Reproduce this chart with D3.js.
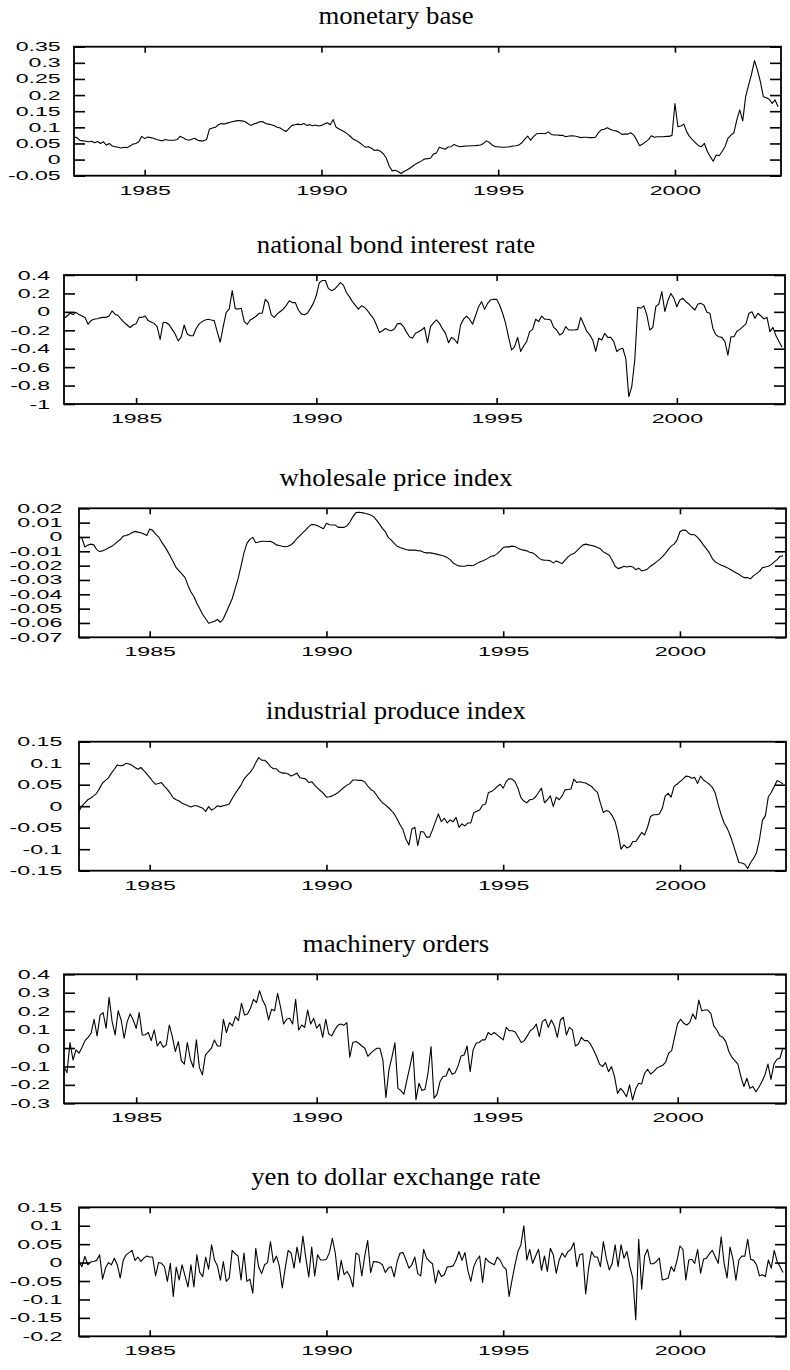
<!DOCTYPE html>
<html>
<head>
<meta charset="utf-8">
<script src="https://cdn.jsdelivr.net/npm/d3@7"></script>
<style>
  body { margin: 0; background: #fff; }
  .tick-label { font-family: "Liberation Sans", Arial, sans-serif; font-size: 12.5px; fill: #000; }
  .title { font-family: "Liberation Serif", "Times New Roman", serif; font-size: 25px; fill: #000; }
</style>
</head>
<body>
<div id="chart"></div>
<script>
// monthly observations, Jan 1983 .. Dec 2002
const months = d3.range(240).map((i) => 1983 + i / 12);
const yearTicks = [1985, 1990, 1995, 2000];

const monetaryBase = [
  0.07, 0.068, 0.06, 0.058, 0.057, 0.055, 0.057, 0.052, 0.056, 0.05, 0.055, 0.045,
  0.05, 0.042, 0.04, 0.038, 0.036, 0.038, 0.037, 0.042, 0.048, 0.05, 0.055, 0.072,
  0.065, 0.07, 0.068, 0.066, 0.062, 0.06, 0.058, 0.062, 0.06, 0.06, 0.06, 0.062,
  0.072, 0.068, 0.062, 0.06, 0.063, 0.066, 0.06, 0.058, 0.058, 0.062, 0.095, 0.098,
  0.1, 0.108, 0.112, 0.11, 0.113, 0.116, 0.118, 0.12, 0.121, 0.12, 0.118, 0.112,
  0.106, 0.11, 0.113, 0.117, 0.118, 0.112, 0.11, 0.108, 0.105, 0.1, 0.098, 0.092,
  0.087, 0.097, 0.106, 0.108, 0.11, 0.108, 0.112, 0.106, 0.108, 0.105, 0.107, 0.104,
  0.106, 0.11, 0.114, 0.108, 0.124, 0.1, 0.095, 0.09, 0.085, 0.078, 0.07, 0.062,
  0.058, 0.052, 0.045, 0.038, 0.04, 0.035, 0.028, 0.03, 0.026, 0.018, 0.005, -0.02,
  -0.035, -0.033, -0.037, -0.043, -0.037, -0.032, -0.027, -0.02, -0.014, -0.009, -0.004, 0.002,
  0.003, 0.004, 0.017, 0.02, 0.038, 0.035, 0.032, 0.039, 0.04, 0.047, 0.043, 0.04,
  0.041, 0.042, 0.042, 0.043, 0.043, 0.044, 0.045, 0.05, 0.058, 0.053, 0.045, 0.04,
  0.04, 0.038, 0.038, 0.039, 0.04, 0.042, 0.043, 0.045, 0.052, 0.063, 0.073, 0.06,
  0.071, 0.08, 0.081, 0.081, 0.08, 0.086, 0.078, 0.076, 0.076, 0.075, 0.075, 0.071,
  0.073, 0.074, 0.073, 0.071, 0.068, 0.069, 0.069, 0.068, 0.068, 0.069, 0.083, 0.092,
  0.094, 0.099, 0.094, 0.09, 0.089, 0.085, 0.078, 0.079, 0.079, 0.083, 0.076, 0.061,
  0.043, 0.048, 0.055, 0.062, 0.074, 0.069, 0.071, 0.071, 0.071, 0.072, 0.072, 0.075,
  0.174, 0.102, 0.104, 0.11, 0.086, 0.071, 0.061, 0.052, 0.043, 0.04, 0.05, 0.025,
  0.009, -0.005, 0.014, 0.012, 0.025, 0.04, 0.066, 0.076, 0.083, 0.123, 0.154, 0.12,
  0.195, 0.231, 0.265, 0.307, 0.278, 0.242, 0.195, 0.192, 0.187, 0.174, 0.185, 0.164,
];

const bondRate = [
  -0.07, -0.045, -0.015, -0.03, -0.005, -0.03, -0.045, -0.06, -0.135, -0.095, -0.08, -0.075,
  -0.065, -0.06, -0.06, -0.045, 0.01, -0.025, -0.04, -0.08, -0.115, -0.143, -0.17, -0.143,
  -0.13, -0.06, -0.06, -0.045, -0.095, -0.11, -0.125, -0.16, -0.3, -0.115, -0.115, -0.14,
  -0.19, -0.24, -0.315, -0.275, -0.143, -0.24, -0.26, -0.26, -0.18, -0.13, -0.106, -0.088,
  -0.08, -0.088, -0.095, -0.215, -0.33, -0.16, -0.005, 0.03, 0.23, 0.035, 0.03, 0.04,
  -0.106, -0.135, -0.088, -0.07, -0.045, -0.015, -0.015, 0.136, 0.1, -0.032, -0.06, -0.022,
  0.004, 0.03, 0.07, 0.12, 0.1, 0.1, 0.02, -0.022, -0.032, -0.015, 0.035, 0.092,
  0.18, 0.317, 0.34, 0.34, 0.255, 0.23, 0.245, 0.28, 0.317, 0.29, 0.21, 0.165,
  0.11, 0.07, 0.03, 0.065, 0.05, 0.015, -0.03, -0.07, -0.143, -0.225, -0.205, -0.18,
  -0.197, -0.205, -0.185, -0.13, -0.125, -0.16, -0.22, -0.27, -0.287, -0.233, -0.215, -0.197,
  -0.17, -0.335, -0.16, -0.12, -0.088, -0.125, -0.185, -0.233, -0.335, -0.277, -0.3, -0.342,
  -0.143, -0.08, -0.045, -0.08, -0.135, -0.04, 0.056, 0.11, 0.027, 0.092, 0.129, 0.136,
  0.136, 0.075, -0.015, -0.125, -0.277, -0.414, -0.378, -0.277, -0.43, -0.37, -0.323, -0.215,
  -0.19, -0.08, -0.106, -0.045, -0.08, -0.08, -0.088, -0.168, -0.197, -0.25, -0.233, -0.16,
  -0.197, -0.197, -0.197, -0.19, -0.06, -0.135, -0.21, -0.25, -0.305, -0.43, -0.287, -0.305,
  -0.233, -0.277, -0.277, -0.323, -0.43, -0.405, -0.395, -0.505, -0.92, -0.81, -0.52, 0.05,
  0.04, 0.065, -0.032, -0.197, -0.168, 0.056, 0.085, 0.22, 0.004, 0.12, 0.2, 0.147,
  0.056, 0.129, 0.147, 0.11, 0.085, 0.05, 0.02, 0.085, 0.092, 0.074, -0.005, -0.015,
  -0.18, -0.25, -0.27, -0.277, -0.323, -0.47, -0.27, -0.27, -0.21, -0.19, -0.16, -0.13,
  -0.015, 0.0, -0.07, -0.015, -0.045, -0.077, -0.06, -0.215, -0.168, -0.26, -0.323, -0.385,
];

const wholesalePrice = [
  0.0, -0.0008, -0.007, -0.0057, -0.005, -0.0055, -0.0088, -0.0102, -0.0097, -0.0088, -0.0076, -0.0066,
  -0.0052, -0.0034, -0.0018, 0.0006, 0.001, 0.0018, 0.003, 0.0039, 0.0034, 0.003, 0.002, 0.001,
  0.0055, 0.0046, 0.002, 0.0001, -0.0034, -0.0064, -0.0097, -0.0134, -0.0174, -0.0214, -0.0237, -0.026,
  -0.0284, -0.0338, -0.0384, -0.0415, -0.0462, -0.0501, -0.0541, -0.0571, -0.0602, -0.0595, -0.0588, -0.0576,
  -0.0595, -0.0571, -0.0525, -0.0478, -0.0431, -0.0361, -0.0291, -0.0204, -0.0111, -0.0045, -0.0017, -0.0003,
  -0.004, -0.0035, -0.003, -0.003, -0.0032, -0.003, -0.004, -0.0055, -0.006, -0.0065, -0.0068, -0.0065,
  -0.0055, -0.0035, -0.001, 0.001, 0.003, 0.005, 0.0072, 0.0088, 0.0085, 0.0078, 0.0067, 0.0057,
  0.0095, 0.0085, 0.0083, 0.0083, 0.0067, 0.0067, 0.0067, 0.0078, 0.0106, 0.0142, 0.017, 0.0172,
  0.017, 0.0165, 0.016, 0.0153, 0.0142, 0.0118, 0.009, 0.006, 0.0036, -0.0003, -0.0022, -0.0045,
  -0.0064, -0.0074, -0.008, -0.0088, -0.0092, -0.0092, -0.0092, -0.0095, -0.0097, -0.0106, -0.0111, -0.0111,
  -0.0113, -0.0118, -0.0123, -0.0127, -0.0134, -0.0144, -0.0158, -0.0181, -0.0193, -0.0202, -0.0204, -0.0204,
  -0.0197, -0.02, -0.0197, -0.0186, -0.0174, -0.0167, -0.0158, -0.0146, -0.0134, -0.013, -0.0116, -0.0097,
  -0.0074, -0.0069, -0.0069, -0.0064, -0.0066, -0.0078, -0.0088, -0.0092, -0.0097, -0.0106, -0.0111, -0.0125,
  -0.0146, -0.0158, -0.0162, -0.0162, -0.0167, -0.0181, -0.0167, -0.0176, -0.0186, -0.0162, -0.0139, -0.0123,
  -0.0116, -0.0097, -0.0076, -0.0057, -0.005, -0.0055, -0.0059, -0.0064, -0.0074, -0.0083, -0.0104, -0.0116,
  -0.0127, -0.0162, -0.0204, -0.0221, -0.0214, -0.0204, -0.0209, -0.0204, -0.0209, -0.0228, -0.0218, -0.0237,
  -0.0232, -0.0223, -0.0204, -0.019, -0.0174, -0.0158, -0.0139, -0.0116, -0.0088, -0.0064, -0.005, -0.0022,
  0.0036, 0.0048, 0.0046, 0.0025, 0.0015, 0.0015, -0.0003, -0.0027, -0.0057, -0.0083, -0.0111, -0.0151,
  -0.0174, -0.0186, -0.0197, -0.0204, -0.0214, -0.0225, -0.0237, -0.0249, -0.026, -0.0275, -0.0284, -0.0284,
  -0.0291, -0.027, -0.0256, -0.024, -0.0214, -0.0209, -0.0204, -0.0193, -0.0174, -0.0158, -0.0134, -0.0132,
];

const industrialProduce = [
  -0.012, 0.001, 0.008, 0.015, 0.019, 0.024, 0.03, 0.042, 0.054, 0.06, 0.066, 0.077,
  0.086, 0.096, 0.094, 0.095, 0.1, 0.098, 0.095, 0.09, 0.086, 0.09, 0.083, 0.075,
  0.067, 0.058, 0.051, 0.053, 0.055, 0.046, 0.039, 0.03, 0.019, 0.015, 0.012, 0.007,
  0.004, 0.001, -0.002, 0.001, 0.001, -0.002, -0.005, -0.012, -0.001, -0.009, -0.005, 0.001,
  -0.001, 0.001, 0.003, 0.005, 0.018, 0.029, 0.039, 0.049, 0.063, 0.071, 0.078, 0.087,
  0.101, 0.113, 0.107, 0.107, 0.101, 0.092, 0.087, 0.087, 0.08, 0.077, 0.077, 0.075,
  0.07, 0.073, 0.077, 0.066, 0.065, 0.063, 0.055, 0.057, 0.049, 0.042, 0.036, 0.03,
  0.021, 0.022, 0.024, 0.028, 0.032, 0.038, 0.044, 0.049, 0.053, 0.061, 0.061, 0.06,
  0.06, 0.057, 0.047, 0.039, 0.035, 0.026, 0.016, 0.008, 0.003, -0.003, -0.01, -0.018,
  -0.03, -0.043, -0.055, -0.077, -0.09, -0.053, -0.049, -0.092, -0.059, -0.06, -0.072, -0.072,
  -0.055, -0.036, -0.018, -0.036, -0.028, -0.039, -0.032, -0.036, -0.026, -0.049, -0.041, -0.046,
  -0.039, -0.039, -0.015, -0.012, -0.009, 0.003, 0.005, 0.032, 0.034, 0.039, 0.046, 0.051,
  0.042, 0.057, 0.064, 0.063, 0.057, 0.042, 0.02, 0.012, 0.008, 0.015, 0.016, 0.022,
  0.032, 0.042, 0.008, 0.015, 0.024, -0.001, 0.021, 0.015, 0.024, 0.038, 0.039, 0.04,
  0.063, 0.055, 0.057, 0.055, 0.054, 0.05, 0.046, 0.038, 0.032, 0.007, -0.015, -0.01,
  -0.013, -0.022, -0.036, -0.063, -0.1, -0.09, -0.097, -0.094, -0.082, -0.082, -0.072, -0.061,
  -0.067, -0.049, -0.024, -0.02, -0.02, -0.018, -0.005, 0.024, 0.03, 0.021, 0.046, 0.051,
  0.057, 0.063, 0.07, 0.069, 0.065, 0.067, 0.053, 0.07, 0.061, 0.056, 0.051, 0.044,
  0.03, 0.003, -0.02, -0.039, -0.051, -0.067, -0.087, -0.109, -0.131, -0.132, -0.135, -0.145,
  -0.131, -0.121, -0.108, -0.077, -0.033, -0.022, 0.022, 0.032, 0.046, 0.06, 0.056, 0.052,
];

const machineryOrders = [
  -0.1, -0.134, 0.03, -0.065, -0.01, -0.028, 0.004, 0.04, 0.058, 0.08, 0.156, 0.066,
  0.178, 0.192, 0.107, 0.275, 0.143, 0.071, 0.202, 0.152, 0.053, 0.143, 0.185, 0.152,
  0.107, 0.192, 0.071, 0.071, 0.084, 0.04, 0.098, 0.011, 0.035, 0.004, 0.017, 0.125,
  0.062, -0.019, 0.035, -0.068, -0.087, 0.03, -0.061, -0.105, 0.044, -0.105, -0.146, -0.038,
  -0.019, -0.001, 0.044, 0.011, 0.011, 0.156, 0.084, 0.138, 0.12, 0.17, 0.149, 0.243,
  0.179, 0.185, 0.216, 0.264, 0.246, 0.311, 0.261, 0.228, 0.152, 0.21, 0.202, 0.297,
  0.221, 0.13, 0.156, 0.161, 0.13, 0.264, 0.098, 0.125, 0.112, 0.206, 0.13, 0.161,
  0.107, 0.13, 0.058, 0.156, 0.076, 0.066, 0.098, 0.123, 0.13, 0.123, 0.138, -0.05,
  0.03, 0.035, 0.026, 0.011, -0.001, -0.045, -0.028, -0.013, -0.001, -0.001, -0.065, -0.27,
  -0.12, -0.05, 0.028, -0.219, -0.231, -0.25, -0.173, -0.1, -0.02, -0.28, -0.191, -0.231,
  -0.224, -0.137, 0.008, -0.273, -0.25, -0.182, -0.155, -0.152, -0.11, -0.143, -0.134, -0.097,
  -0.043, -0.038, 0.011, -0.128, -0.01, 0.026, 0.03, 0.044, 0.044, 0.084, 0.071, 0.084,
  0.071, 0.058, 0.044, 0.112, 0.094, 0.094, 0.087, 0.058, 0.03, 0.04, 0.066, 0.094,
  0.105, 0.13, 0.062, 0.143, 0.156, 0.112, 0.152, 0.12, 0.058, 0.152, 0.167, 0.071,
  0.112, 0.098, 0.011, 0.022, 0.058, 0.04, 0.04, 0.022, -0.01, -0.045, -0.087, -0.101,
  -0.079, -0.128, -0.101, -0.155, -0.246, -0.219, -0.237, -0.264, -0.2, -0.282, -0.224, -0.191,
  -0.195, -0.137, -0.115, -0.141, -0.128, -0.11, -0.101, -0.094, -0.076, -0.028, -0.014, 0.062,
  0.134, 0.156, 0.134, 0.125, 0.138, 0.185, 0.156, 0.26, 0.202, 0.206, 0.206, 0.188,
  0.12, 0.098, 0.066, 0.058, 0.035, -0.019, -0.05, -0.068, -0.087, -0.155, -0.209, -0.164,
  -0.219, -0.209, -0.237, -0.213, -0.182, -0.146, -0.087, -0.17, -0.087, -0.061, -0.054, 0.0,
];

const yenDollar = [
  0.003, -0.011, 0.017, -0.006, 0.002, 0.003, 0.006, 0.021, -0.045, -0.015, 0.0, -0.006,
  0.012, -0.006, -0.042, 0.006, 0.021, 0.027, 0.033, 0.006, 0.015, 0.003, 0.012, 0.018,
  0.015, 0.015, -0.036, 0.0, -0.002, -0.011, -0.051, -0.002, -0.092, -0.012, -0.047, -0.006,
  -0.036, -0.066, -0.006, -0.066, 0.021, -0.027, -0.038, 0.015, -0.018, 0.048, 0.007, -0.009,
  -0.048, 0.003, -0.051, -0.042, 0.033, 0.024, 0.018, -0.047, 0.026, -0.051, -0.045, -0.083,
  0.039, -0.012, -0.03, -0.006, 0.0, 0.057, 0.0, 0.018, -0.009, -0.069, -0.015, 0.033,
  0.026, -0.015, 0.042, 0.0, 0.072, 0.012, -0.039, 0.042, -0.036, 0.021, 0.007, 0.007,
  0.009, 0.027, 0.066, 0.026, -0.047, 0.006, -0.033, -0.024, -0.038, -0.066, 0.026, 0.021,
  -0.036, 0.018, 0.06, -0.027, 0.003, 0.002, 0.0, -0.006, -0.027, -0.015, -0.011, -0.039,
  0.003, 0.026, 0.027, 0.007, -0.015, -0.006, 0.015, -0.03, -0.036, 0.036, 0.012, 0.003,
  -0.003, -0.056, -0.021, -0.038, -0.033, -0.012, -0.011, -0.009, 0.007, 0.03, 0.006, 0.027,
  -0.021, -0.051, -0.011, 0.007, 0.018, -0.054, 0.012, 0.003, -0.002, -0.006, 0.015, 0.006,
  -0.011, -0.018, -0.092, -0.047, -0.006, 0.03, 0.048, 0.1, 0.007, 0.036, -0.002, 0.018,
  0.036, -0.021, 0.018, -0.024, 0.039, 0.021, -0.029, 0.007, 0.026, 0.015, 0.03, 0.036,
  0.054, -0.011, 0.021, 0.024, -0.085, -0.015, 0.03, 0.015, 0.015, -0.011, 0.057, 0.012,
  -0.02, -0.002, 0.048, -0.011, 0.048, 0.012, 0.03, -0.011, -0.042, -0.155, 0.063, -0.072,
  0.018, 0.036, -0.003, -0.003, 0.003, 0.012, -0.047, -0.045, -0.042, -0.011, -0.024, 0.006,
  0.045, 0.036, -0.047, 0.007, 0.009, -0.002, 0.036, -0.029, 0.009, 0.012, 0.024, 0.033,
  0.015, -0.002, 0.07, -0.002, -0.042, 0.042, 0.009, -0.048, 0.007, 0.018, 0.017, 0.063,
  0.009, 0.006, -0.006, -0.036, -0.033, -0.038, 0.007, -0.015, 0.033, 0.003, -0.011, -0.027,
];

const monetaryTicks = [-0.05, 0, 0.05, 0.1, 0.15, 0.2, 0.25, 0.3, 0.35];
const bondTicks = [-1, -0.8, -0.6, -0.4, -0.2, 0, 0.2, 0.4];
const wholesaleTicks = [-0.07, -0.06, -0.05, -0.04, -0.03, -0.02, -0.01, 0, 0.01, 0.02];
const industrialTicks = [-0.15, -0.1, -0.05, 0, 0.05, 0.1, 0.15];
const machineryTicks = [-0.3, -0.2, -0.1, 0, 0.1, 0.2, 0.3, 0.4];
const yenTicks = [-0.2, -0.15, -0.1, -0.05, 0, 0.05, 0.1, 0.15];

const panels = [
  { title: 'monetary base', values: monetaryBase, ticks: monetaryTicks, left: 74, right: 781, top: 46.7, gap: 13.3 },
  { title: 'national bond interest rate', values: bondRate, ticks: bondTicks, left: 64, right: 785, top: 275, gap: 14 },
  { title: 'wholesale price index', values: wholesalePrice, ticks: wholesaleTicks, left: 79, right: 786, top: 508.3, gap: 16.7 },
  { title: 'industrial produce index', values: industrialProduce, ticks: industrialTicks, left: 79, right: 786, top: 741.7, gap: 16.7 },
  { title: 'machinery orders', values: machineryOrders, ticks: machineryTicks, left: 64, right: 786, top: 974.3, gap: 14 },
  { title: 'yen to dollar exchange rate', values: yenDollar, ticks: yenTicks, left: 79, right: 786, top: 1207.3, gap: 16.7 },
];

const plotHeight = 129;
const stretch = 1.85; // tick labels of the source figure are widened sideways
const fmt = (d) => String(+d.toFixed(3));

const svg = d3.select('#chart').append('svg')
  .attr('width', 790)
  .attr('height', 1370);

panels.forEach((p) => {
  const bottom = p.top + plotHeight;
  const x = d3.scaleLinear().domain([1983, 2003]).range([p.left, p.right]);
  const y = d3.scaleLinear().domain(d3.extent(p.ticks)).range([bottom, p.top]);

  const g = svg.append('g');

  /* title, centred on the page */
  g.append('text')
    .attr('class', 'title')
    .attr('text-anchor', 'middle')
    .attr('transform', `translate(396,${p.top - 22.5}) scale(1.07,1)`)
    .text(p.title);

  /* y axes: labelled on the left, bare ticks on the right */
  const yLeft = g.append('g')
    .attr('transform', `translate(${p.left},0)`)
    .call(d3.axisLeft(y).tickValues(p.ticks).tickSize(-11).tickFormat(fmt));
  yLeft.selectAll('text')
    .attr('class', 'tick-label')
    .attr('x', -p.gap / stretch)
    .attr('transform', `scale(${stretch},1)`);

  g.append('g')
    .attr('transform', `translate(${p.right},0)`)
    .call(d3.axisRight(y).tickValues(p.ticks).tickSize(-11).tickFormat(''));

  /* x axes: labelled on the bottom, bare ticks on top */
  const xBottom = g.append('g')
    .attr('transform', `translate(0,${bottom})`)
    .call(d3.axisBottom(x).tickValues(yearTicks).tickSize(-6).tickFormat(d3.format('d')));
  xBottom.selectAll('text')
    .attr('class', 'tick-label')
    .attr('y', 10)
    .attr('transform', `scale(${stretch},1)`);

  g.append('g')
    .attr('transform', `translate(0,${p.top})`)
    .call(d3.axisTop(x).tickValues(yearTicks).tickSize(-6).tickFormat(''));

  g.selectAll('.domain').remove();
  g.selectAll('.tick line').attr('stroke', '#000').attr('stroke-width', 1.6);

  /* frame */
  g.append('rect')
    .attr('x', p.left)
    .attr('y', p.top)
    .attr('width', p.right - p.left)
    .attr('height', plotHeight)
    .attr('fill', 'none')
    .attr('stroke', '#000')
    .attr('stroke-width', 1.8);

  /* the series */
  const line = d3.line()
    .x((d, i) => x(months[i]))
    .y((d) => y(d));

  g.append('path')
    .datum(p.values)
    .attr('fill', 'none')
    .attr('stroke', '#000')
    .attr('stroke-width', 1.1)
    .attr('stroke-linejoin', 'round')
    .attr('d', line);
});
</script>
</body>
</html>
